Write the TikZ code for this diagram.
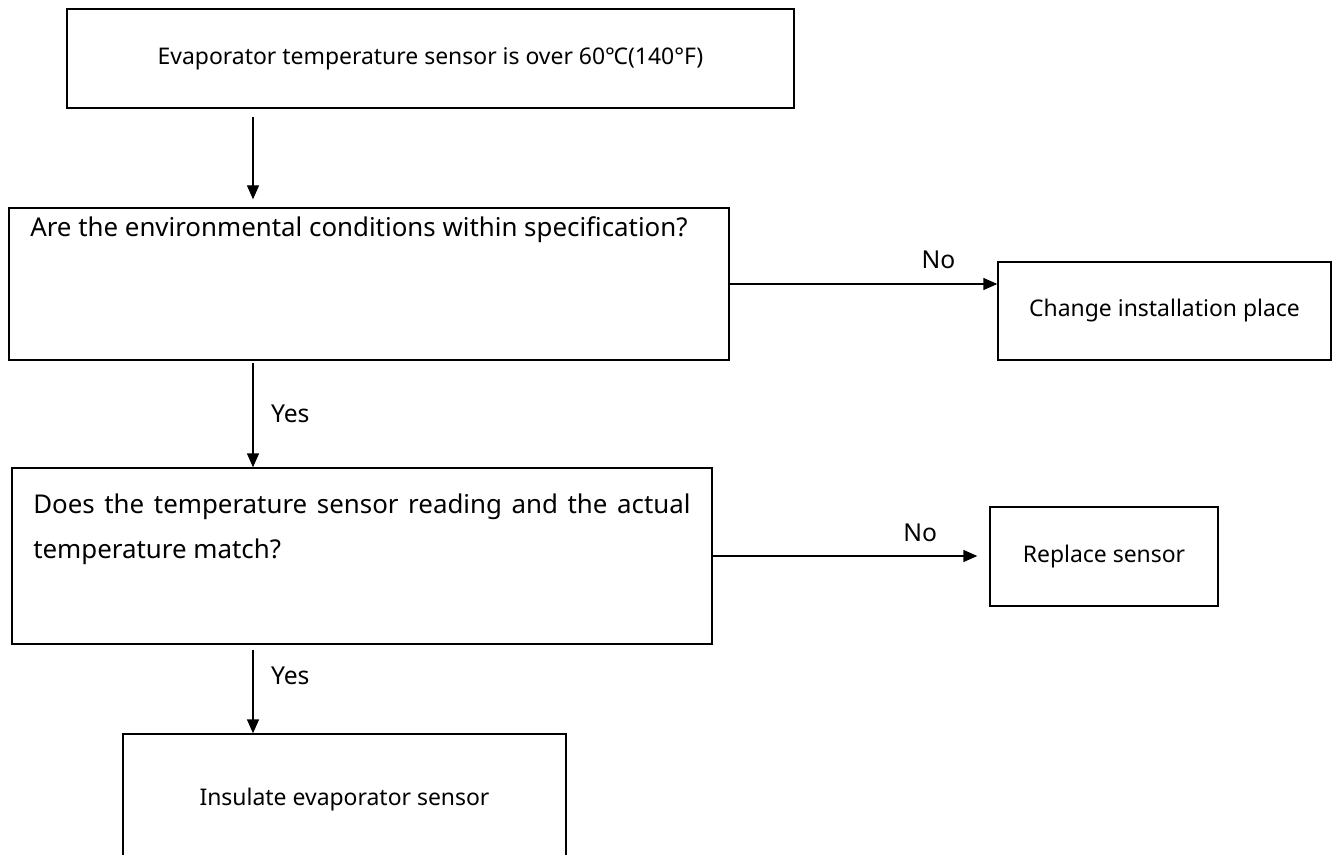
\documentclass[tikz,border=0pt]{standalone}
\usepackage{fontspec}
\setmainfont{Noto Sans}
\usetikzlibrary{positioning,arrows.meta}

\begin{document}
\begin{tikzpicture}[x=0.75pt,y=-0.75pt]
	\useasboundingbox (0,0) rectangle (1335,855);
	\coordinate (X) at (253,0);
	\begin{scope}[every node/.style={rectangle,draw,line width=1pt,inner sep=0pt,font=\fontsize{17.2}{20}\selectfont}]
		\node[minimum width=545.25pt,minimum height=74.25pt] (T) at (430.5,58.5) {Evaporator temperature sensor is over 60℃(140°F)};
		\node[minimum width=540pt,minimum height=114pt] (E) at (369,284) {};
		\node[minimum width=249.75pt,minimum height=73.5pt] (P) at (1164.5,311) {Change installation place};
		\node[minimum width=525pt,minimum height=132pt] (M) at (362,556) {};
		\node[minimum width=171pt,minimum height=74.25pt] (R) at (1104,556.5) {Replace sensor};
		\node[minimum width=332.25pt,minimum height=99pt] (I) at (344.5,800) {Insulate evaporator sensor};
	\end{scope}
	\begin{scope}[every node/.style={inner sep=0pt,font=\fontsize{19.4}{23}\selectfont}]
		\node[anchor=west] (Eq) at (30,230) {Are the environmental conditions within specification?};
		\node[anchor=base west,text width=493pt,align=justify,font=\fontsize{19.4}{33.75}\selectfont] (Mq) at (33,513)
			{Does the temperature sensor reading and the actual\linebreak temperature match?};
	\end{scope}
	\begin{scope}[every node/.style={inner sep=0pt,font=\fontsize{18.5}{22}\selectfont},
              every edge/.style={draw=black,line width=1pt,-{Triangle[length=10.5pt,width=9pt]}}]
		\path (T.south -| X) edge[shorten <=6pt,shorten >=6pt] (E.north -| X);
		\path (E.south -| X) edge[shorten <=2pt] node[right=13pt,pos=0.5] {Yes} (M.north -| X);
		\path (M.south -| X) edge[shorten <=4pt] node[right=13pt,pos=0.35] {Yes} (I.north -| X);
		\path (E.east) edge node[above=11pt,pos=0.78] {No} (P.west |- E.east);
		\path (M.east) edge[shorten >=9pt] node[above=10pt,pos=0.75] {No} (R.west |- M.east);
	\end{scope}
\end{tikzpicture}
\end{document}
